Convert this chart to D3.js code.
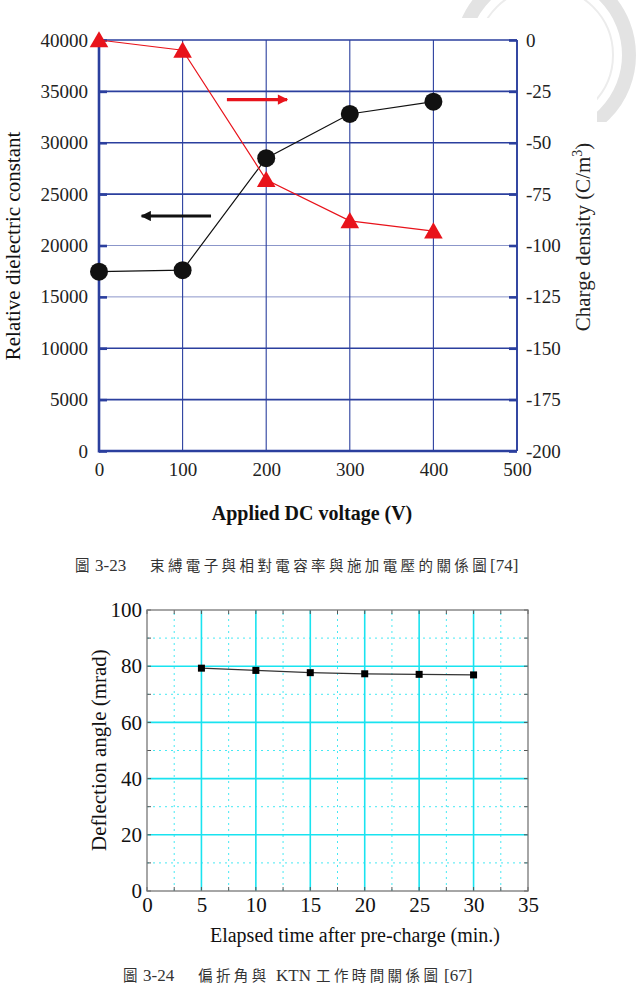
<!DOCTYPE html>
<html>
<head>
<meta charset="utf-8">
<script src="https://cdn.jsdelivr.net/npm/d3@7"></script>
<style>
  body { margin: 0; background: #fff; }
  text { font-family: "Liberation Serif", "DejaVu Serif", serif; }
  .cjk { font-family: "Noto Sans CJK TC", "Noto Sans CJK SC", sans-serif; }
</style>
</head>
<body>
<svg id="fig" width="636" height="995"></svg>
<script>
// ---- figure 3-23 data ----
const voltage = [0, 100, 200, 300, 400];
const dielectric = [17450, 17600, 28500, 32800, 34000];
const chargeDensity = [0, -5, -68, -88, -93];
const leftTicks = [0, 5000, 10000, 15000, 20000, 25000, 30000, 35000, 40000];
const rightTicks = [0, -25, -50, -75, -100, -125, -150, -175, -200];
const voltTicks = [0, 100, 200, 300, 400, 500];

// ---- figure 3-24 data ----
const elapsed = [5, 10, 15, 20, 25, 30];
const deflection = [79.3, 78.5, 77.7, 77.3, 77.1, 76.9];
const timeTicks = [0, 5, 10, 15, 20, 25, 30, 35];
const angleTicks = [0, 20, 40, 60, 80, 100];

const svg = d3.select("#fig");
const blue = "#2b3f9e";

// faint seal watermark in the top-right corner
svg.append("circle")
    .attr("cx", 545).attr("cy", 55).attr("r", 84)
    .attr("fill", "none").attr("stroke", "#e3e3e3").attr("stroke-width", 14);
svg.append("circle")
    .attr("cx", 545).attr("cy", 55).attr("r", 68)
    .attr("fill", "none").attr("stroke", "#ececec").attr("stroke-width", 2);
svg.append("rect").attr("x", 0).attr("y", 18).attr("width", 597).attr("height", 977).attr("fill", "#fff");
svg.append("rect").attr("x", 0).attr("y", 122).attr("width", 636).attr("height", 873).attr("fill", "#fff");

// ================= chart 1 =================
const x1 = d3.scaleLinear().domain([0, 500]).range([99, 517]);
const yL = d3.scaleLinear().domain([0, 40000]).range([451, 40]);
const yR = d3.scaleLinear().domain([-200, 0]).range([451, 40]);

const g1 = svg.append("g");

// horizontal grid
g1.selectAll("line.hgrid")
    .data(leftTicks)
    .join("line")
    .attr("x1", x1(0)).attr("x2", x1(500))
    .attr("y1", d => yL(d)).attr("y2", d => yL(d))
    .attr("stroke", blue)
    .attr("stroke-opacity", d => (d == 15000 || d == 20000) ? 0.55 : 1)
    .attr("stroke-width", d => (d == 15000 || d == 20000) ? 1 : 1.6);

// vertical grid
g1.selectAll("line.vgrid")
    .data(voltTicks)
    .join("line")
    .attr("x1", d => x1(d)).attr("x2", d => x1(d))
    .attr("y1", yL(0)).attr("y2", yL(40000))
    .attr("stroke", blue)
    .attr("stroke-width", 1.1);

// frame
g1.append("line").attr("x1", x1(0)).attr("x2", x1(0)).attr("y1", yL(0) + 1.5).attr("y2", yL(40000))
    .attr("stroke", blue).attr("stroke-width", 2.6);
g1.append("line").attr("x1", x1(0)).attr("x2", x1(500)).attr("y1", yL(0)).attr("y2", yL(0))
    .attr("stroke", blue).attr("stroke-width", 2.6);
g1.append("line").attr("x1", x1(500)).attr("x2", x1(500)).attr("y1", yL(0)).attr("y2", yL(40000))
    .attr("stroke", blue).attr("stroke-width", 1.8);

// axes, ticks pointing inward
const axL = d3.axisLeft(yL).tickValues(leftTicks).tickSize(-8).tickPadding(11).tickFormat(d => d);
const axR = d3.axisRight(yR).tickValues(rightTicks).tickSize(-8).tickPadding(11).tickFormat(d => d);
const axB = d3.axisBottom(x1).tickValues(voltTicks).tickSize(0).tickPadding(12).tickFormat(d => d);

function styleAxis(sel, size) {
    sel.select(".domain").remove();
    sel.selectAll(".tick line").attr("stroke", blue).attr("stroke-width", 2.6);
    sel.selectAll(".tick text").attr("fill", "#222").style("font-size", size + "px")
        .style("font-family", '"Liberation Serif", serif');
}
g1.append("g").attr("transform", `translate(${x1(0)},0)`).call(axL).call(styleAxis, 19);
g1.append("g").attr("transform", `translate(${x1(500)},0)`).call(axR).call(styleAxis, 19)
    .selectAll(".tick text").attr("dx", "-2");
g1.append("g").attr("transform", `translate(0,${yL(0)})`).call(axB).call(styleAxis, 19);

// dielectric line + circles
const lineL = d3.line().x((d, i) => x1(voltage[i])).y(d => yL(d));
g1.append("path").datum(dielectric).attr("d", lineL)
    .attr("fill", "none").attr("stroke", "#111").attr("stroke-width", 1.2);
g1.selectAll("circle.pt").data(dielectric).join("circle")
    .attr("cx", (d, i) => x1(voltage[i])).attr("cy", d => yL(d)).attr("r", 9)
    .attr("fill", "#111");

// charge density line + triangles
const lineR = d3.line().x((d, i) => x1(voltage[i])).y(d => yR(d));
g1.append("path").datum(chargeDensity).attr("d", lineR)
    .attr("fill", "none").attr("stroke", "#e8131b").attr("stroke-width", 1.2);
const tri = d3.symbol().type(d3.symbolTriangle).size(150);
g1.selectAll("path.tri").data(chargeDensity).join("path")
    .attr("d", tri)
    .attr("transform", (d, i) => `translate(${x1(voltage[i])},${yR(d) + 2})`)
    .attr("fill", "#e8131b");

// direction arrows
const defs = svg.append("defs");
[["red", "#e8131b"], ["black", "#111"]].forEach(([id, c]) => {
    defs.append("marker").attr("id", "ah-" + id)
        .attr("viewBox", "0 0 10 10").attr("refX", 9).attr("refY", 5)
        .attr("markerWidth", 4.2).attr("markerHeight", 3.2).attr("orient", "auto")
        .attr("markerUnits", "strokeWidth")
        .append("path").attr("d", "M0,0L10,5L0,10z").attr("fill", c);
});
g1.append("line")
    .attr("x1", x1(153)).attr("x2", x1(225)).attr("y1", yR(-29)).attr("y2", yR(-29))
    .attr("stroke", "#e8131b").attr("stroke-width", 3.2).attr("marker-end", "url(#ah-red)");
g1.append("line")
    .attr("x1", x1(134)).attr("x2", x1(51)).attr("y1", yL(22870)).attr("y2", yL(22870))
    .attr("stroke", "#111").attr("stroke-width", 3.2).attr("marker-end", "url(#ah-black)");

// axis titles
g1.append("text").attr("transform", `translate(20,246) rotate(-90)`)
    .attr("text-anchor", "middle").style("font-size", "21px").attr("fill", "#111")
    .text("Relative dielectric constant");
const rt = g1.append("text").attr("transform", `translate(590,237) rotate(-90)`)
    .attr("text-anchor", "middle").style("font-size", "21px").attr("fill", "#222");
rt.append("tspan").text("Charge density (C/m");
rt.append("tspan").attr("dy", "-8").style("font-size", "14px").text("3");
rt.append("tspan").attr("dy", "8").text(")");
g1.append("text").attr("x", 312).attr("y", 520).attr("text-anchor", "middle")
    .style("font-size", "20px").style("font-weight", "bold").attr("fill", "#111")
    .text("Applied DC voltage (V)");

// captions: [text, x, cjk?] pieces
function caption(y, parts) {
    const t = svg.append("text").attr("y", y).attr("fill", "#333");
    parts.forEach(([s, x, cjk]) => {
        const sp = t.append("tspan").attr("x", x).text(s);
        if (cjk) sp.attr("class", "cjk").style("font-size", "14.5px").style("letter-spacing", "3.4px");
        else sp.style("font-size", "17px");
    });
}
caption(571, [["圖", 75, true], ["3-23", 95, false], ["束縛電子與相對電容率與施加電壓的關係圖", 150, true], ["[74]", 490, false]]);

// ================= chart 2 =================
const x2 = d3.scaleLinear().domain([0, 35]).range([147, 528]);
const y2 = d3.scaleLinear().domain([0, 100]).range([891, 610]);
const g2 = svg.append("g");
const cyan = "#19e3f0";

const minorX = d3.range(0, 35.01, 2.5).filter(v => v % 5 != 0);
const minorY = d3.range(0, 100.01, 10).filter(v => v % 20 != 0);

g2.selectAll("line.mx").data(minorX).join("line")
    .attr("x1", d => x2(d)).attr("x2", d => x2(d)).attr("y1", y2(0)).attr("y2", y2(100))
    .attr("stroke", cyan).attr("stroke-width", 1).attr("stroke-dasharray", "2,4").attr("stroke-opacity", 0.8);
g2.selectAll("line.my").data(minorY).join("line")
    .attr("x1", x2(0)).attr("x2", x2(35)).attr("y1", d => y2(d)).attr("y2", d => y2(d))
    .attr("stroke", cyan).attr("stroke-width", 1).attr("stroke-dasharray", "2,4").attr("stroke-opacity", 0.8);
g2.selectAll("line.gx").data(timeTicks.slice(1, -1)).join("line")
    .attr("x1", d => x2(d)).attr("x2", d => x2(d)).attr("y1", y2(0)).attr("y2", y2(100))
    .attr("stroke", cyan).attr("stroke-width", 1.6);
g2.selectAll("line.gy").data(angleTicks.slice(1, -1)).join("line")
    .attr("x1", x2(0)).attr("x2", x2(35)).attr("y1", d => y2(d)).attr("y2", d => y2(d))
    .attr("stroke", cyan).attr("stroke-width", 1.6);

// inward ticks on all sides
const tickX = d3.range(0, 35.01, 2.5);
const tickY = d3.range(0, 100.01, 10);
[[y2(0), -4], [y2(100), 4]].forEach(([yy, dir]) => {
    g2.selectAll(null).data(tickX).join("line")
        .attr("x1", d => x2(d)).attr("x2", d => x2(d)).attr("y1", yy).attr("y2", yy + dir)
        .attr("stroke", "#555").attr("stroke-width", 1);
});
[[x2(0), 4], [x2(35), -4]].forEach(([xx, dir]) => {
    g2.selectAll(null).data(tickY).join("line")
        .attr("x1", xx).attr("x2", xx + dir).attr("y1", d => y2(d)).attr("y2", d => y2(d))
        .attr("stroke", "#555").attr("stroke-width", 1);
});

g2.append("rect").attr("x", x2(0)).attr("y", y2(100))
    .attr("width", x2(35) - x2(0)).attr("height", y2(0) - y2(100))
    .attr("fill", "none").attr("stroke", "#777").attr("stroke-width", 1.3);

const ax2L = d3.axisLeft(y2).tickValues(angleTicks).tickSize(0).tickPadding(5);
const ax2B = d3.axisBottom(x2).tickValues(timeTicks).tickSize(0).tickPadding(6);
function styleAxis2(sel) {
    sel.select(".domain").remove();
    sel.selectAll(".tick text").attr("fill", "#111").style("font-size", "21px")
        .style("font-family", '"Liberation Serif", serif');
}
g2.append("g").attr("transform", `translate(${x2(0)},0)`).call(ax2L).call(styleAxis2);
g2.append("g").attr("transform", `translate(0,${y2(0)})`).call(ax2B).call(styleAxis2);

const line2 = d3.line().x((d, i) => x2(elapsed[i])).y(d => y2(d));
g2.append("path").datum(deflection).attr("d", line2)
    .attr("fill", "none").attr("stroke", "#333").attr("stroke-width", 1.2);
g2.selectAll("rect.pt").data(deflection).join("rect")
    .attr("x", (d, i) => x2(elapsed[i]) - 3.5).attr("y", d => y2(d) - 3.5)
    .attr("width", 7).attr("height", 7).attr("fill", "#000");

g2.append("text").attr("transform", `translate(106,750) rotate(-90)`)
    .attr("text-anchor", "middle").style("font-size", "21px").attr("fill", "#111")
    .text("Deflection angle (mrad)");
g2.append("text").attr("x", 355).attr("y", 942).attr("text-anchor", "middle")
    .style("font-size", "20px").attr("fill", "#111")
    .text("Elapsed time after pre-charge (min.)");

caption(981, [["圖", 123, true], ["3-24", 143, false], ["偏折角與", 198, true], ["KTN", 276, false],
    ["工作時間關係圖", 316, true], ["[67]", 444, false]]);
</script>
</body>
</html>
